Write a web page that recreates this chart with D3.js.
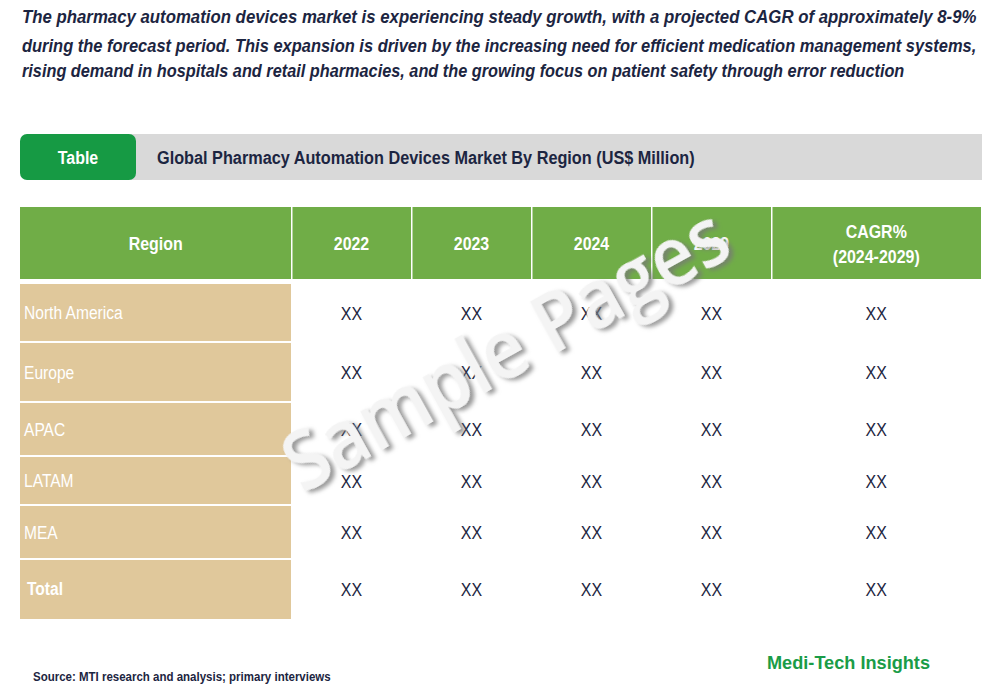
<!DOCTYPE html>
<html>
<head>
<meta charset="utf-8">
<script src="https://cdn.jsdelivr.net/npm/d3@7"></script>
<style>
html,body{margin:0;padding:0;background:#fff;}
svg{display:block;}
</style>
</head>
<body>
<svg id="chart" width="993" height="687"></svg>
<script>
// ---------- DATA ----------
const introLines = [
  "The pharmacy automation devices market is experiencing steady growth, with a projected CAGR of approximately 8-9%",
  "during the forecast period. This expansion is driven by the increasing need for efficient medication management systems,",
  "rising demand in hospitals and retail pharmacies, and the growing focus on patient safety through error reduction"
];
const tableTag = "Table";
const tableTitle = "Global Pharmacy Automation Devices Market By Region (US$ Million)";
const headers = ["Region", "2022", "2023", "2024", "2029", "CAGR%\n(2024-2029)"];
const regions = ["North America", "Europe", "APAC", "LATAM", "MEA", "Total"];
const values2022 = ["XX", "XX", "XX", "XX", "XX", "XX"];
const values2023 = ["XX", "XX", "XX", "XX", "XX", "XX"];
const values2024 = ["XX", "XX", "XX", "XX", "XX", "XX"];
const values2029 = ["XX", "XX", "XX", "XX", "XX", "XX"];
const valuesCagr = ["XX", "XX", "XX", "XX", "XX", "XX"];
const sourceText = "Source: MTI research and analysis; primary interviews";
const brandText = "Medi-Tech Insights";
const watermarkText = "Sample Pages";

// ---------- LAYOUT ----------
const svg = d3.select("#chart");
const NAVY = "#1c2541";
const SANS = "'Liberation Sans',Arial,sans-serif";
const NARROW_SCALE = 0.84;

// draws a horizontally condensed text (Arial Narrow look) anchored at (x,y)
function narrow(parent, x, y, str, o) {
  const t = parent.append("text")
    .attr("x", 0).attr("y", 0)
    .attr("text-anchor", o.anchor || "start")
    .attr("font-family", SANS)
    .attr("font-size", o.size || 18)
    .attr("font-weight", o.weight || "normal")
    .attr("font-style", o.style || "normal")
    .attr("fill", o.fill || NAVY)
    .text(str);
  let s = o.scale || NARROW_SCALE;
  if (o.width) s = o.width / t.node().getComputedTextLength();
  t.attr("transform", `translate(${x},${y}) scale(${s},1)`);
  return t;
}

const colEdges = [20, 291.5, 411.5, 531.5, 651.5, 771.5, 981];
const rowEdges = [283, 342, 402, 456, 505, 559, 618];
const x = d3.scaleOrdinal().domain(headers).range(colEdges.slice(0, -1));
const xEnd = d3.scaleOrdinal().domain(headers).range(colEdges.slice(1));
const y = d3.scaleOrdinal().domain(regions).range(rowEdges.slice(0, -1));
const yEnd = d3.scaleOrdinal().domain(regions).range(rowEdges.slice(1));
const xMid = h => (x(h) + xEnd(h)) / 2;
const yMid = r => (y(r) + yEnd(r)) / 2;

// intro text
const introWidths = [955, 955, 883];
const introG = svg.append("g");
introLines.forEach((line, i) => {
  narrow(introG, 22, [23, 52, 77][i], line,
    { size: 19, weight: "bold", style: "italic", width: introWidths[i] });
});

// title bar
svg.append("rect").attr("x", 130).attr("y", 134).attr("width", 852).attr("height", 46).attr("fill", "#d9d9d9");
svg.append("rect").attr("x", 20).attr("y", 134).attr("width", 116).attr("height", 46).attr("rx", 7).attr("fill", "#169a44");
narrow(svg, 78, 164, tableTag, { anchor: "middle", size: 19, weight: "bold", fill: "#fff" });
narrow(svg, 157, 164, tableTitle, { size: 18.5, weight: "bold", width: 538 });

// header row
const hdr = svg.append("g");
hdr.selectAll("rect").data(headers).join("rect")
  .attr("x", (d, i) => x(d) + (i ? 1 : 0))
  .attr("y", 207)
  .attr("width", (d, i) => xEnd(d) - x(d) - (i ? 1 : 0) - (i < headers.length - 1 ? 0.5 : 0))
  .attr("height", 72)
  .attr("fill", "#70ad47");
headers.forEach(h => {
  const parts = h.split("\n");
  const y0 = 250 - (parts.length - 1) * 12.5;
  parts.forEach((p, k) => {
    narrow(hdr, xMid(h), y0 + k * 25, p, { anchor: "middle", size: 19, weight: "bold", fill: "#fff" });
  });
});

// region column
const body = svg.append("g");
body.selectAll("rect").data(regions).join("rect")
  .attr("x", colEdges[0])
  .attr("y", d => y(d) + 1)
  .attr("width", colEdges[1] - colEdges[0] - 0.5)
  .attr("height", (d, i) => yEnd(d) - y(d) - (i < regions.length - 1 ? 2 : 0))
  .attr("fill", "#e0c89b");
regions.forEach((r, i) => {
  const last = i === regions.length - 1;
  narrow(body, last ? 27 : 24, yMid(r) + 6.5, r,
    { size: 19, weight: last ? "bold" : "normal", fill: "#fff", scale: 0.82 });
});

// value cells
const valueCols = [values2022, values2023, values2024, values2029, valuesCagr];
valueCols.forEach((vals, c) => {
  const h = headers[c + 1];
  vals.forEach((v, i) => {
    narrow(body, xMid(h), yMid(regions[i]) + 7, v, { anchor: "middle", size: 19, fill: NAVY });
  });
});

// watermark
const defs = svg.append("defs");
const f = defs.append("filter").attr("id", "wmShadow").attr("x", "-20%").attr("y", "-20%").attr("width", "140%").attr("height", "140%");
f.append("feDropShadow").attr("dx", 3).attr("dy", 4).attr("stdDeviation", 2.2)
  .attr("flood-color", "#777").attr("flood-opacity", 0.75);
svg.append("text")
  .attr("transform", "translate(519,374) rotate(-29)")
  .attr("text-anchor", "middle")
  .attr("font-family", "'Open Sans','DejaVu Sans',sans-serif")
  .attr("font-size", 82)
  .attr("font-weight", 600)
  .attr("fill", "#f4f4f4")
  .attr("filter", "url(#wmShadow)")
  .attr("textLength", 495).attr("lengthAdjust", "spacingAndGlyphs")
  .text(watermarkText);

// footer
narrow(svg, 33, 681, sourceText, { size: 12.5, weight: "bold", width: 298 });
svg.append("text").attr("x", 767).attr("y", 669)
  .attr("font-family", SANS).attr("font-size", 18).attr("font-weight", "bold").attr("fill", "#1a9c47")
  .attr("textLength", 163).attr("lengthAdjust", "spacingAndGlyphs")
  .text(brandText);
</script>
</body>
</html>
